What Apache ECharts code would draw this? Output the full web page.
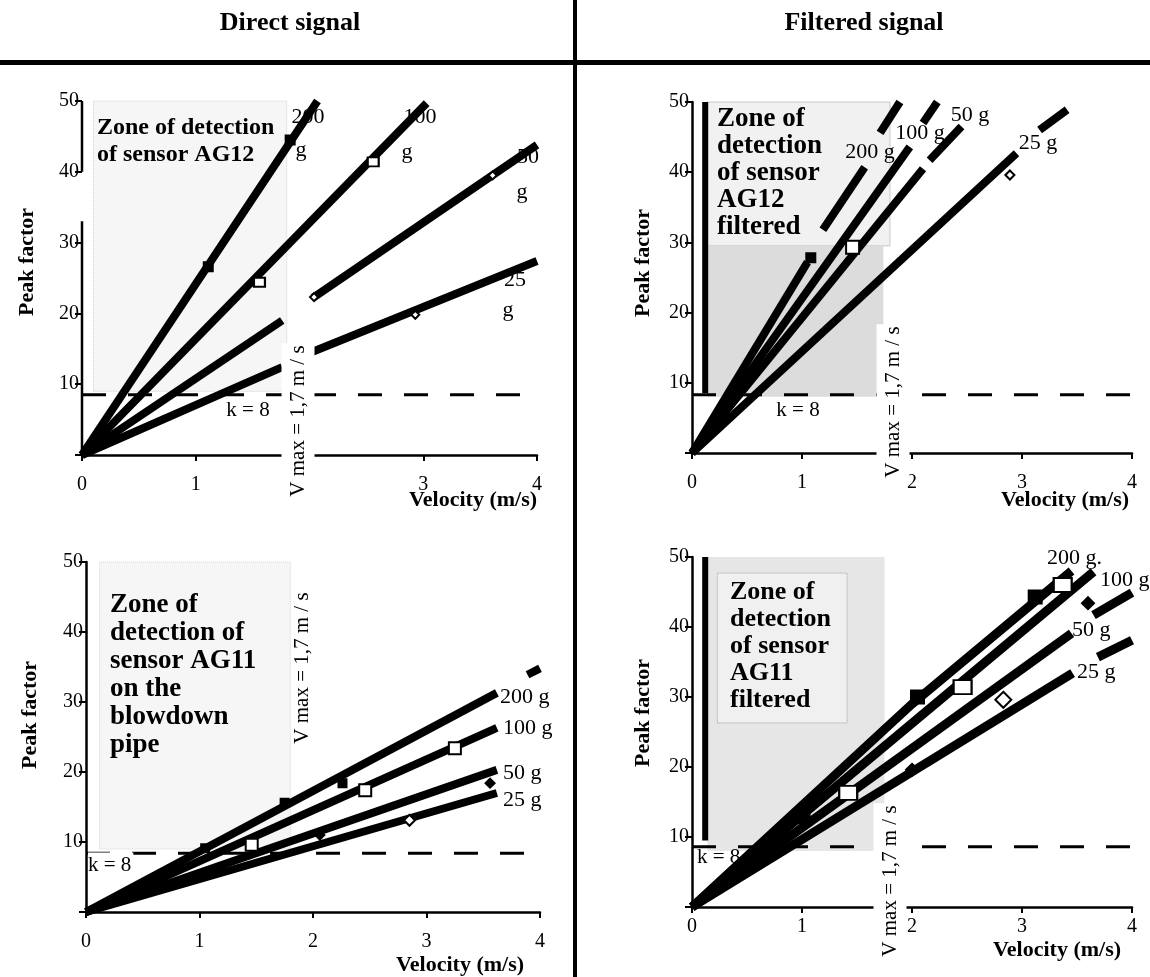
<!DOCTYPE html>
<html>
<head>
<meta charset="UTF-8">
<title>Peak factor vs velocity</title>
<script type="text/javascript" src="https://cdn.jsdelivr.net/npm/echarts/dist/echarts.min.js"></script>
<style>
  html, body { margin: 0; padding: 0; background: #fff; }
</style>
</head>
<body>
<div id="main" style="width: 1150px; height: 977px;"></div>
<script type="text/javascript">
// ---- data (velocity m/s, peak factor) ----
var xTickLabels = ['0', '1', '2', '3', '4'];
var yTickLabels = ['', '10', '20', '30', '40', '50'];

// each curve = list of drawn segments
// direct signal, sensor AG12 (top left)
var tl200 = [[[0, 0], [2.07, 50]]];
var tl100 = [[[0, 0], [3.03, 49.7]]];
var tl50 = [[[0, 0], [1.76, 19]], [[2.03, 22.2], [4.0, 43.8]]];
var tl25 = [[[0, 0], [1.76, 12.4]], [[2.0, 14.4], [4.0, 27.4]]];
var tlFilledSq = [[1.11, 26.6], [1.83, 44.5]];
var tlOpenSq = [[1.56, 24.4], [2.56, 41.4]];
var tlOpenDia = [[2.93, 19.8], [2.04, 22.3], [3.61, 39.5]];

// filtered signal, sensor AG12 (top right)
var tr200 = [[[0, 0], [1.05, 27.2]], [[1.19, 31.8], [1.57, 40.7]], [[1.71, 45.6], [1.89, 50]]];
var tr100 = [[[0, 0], [1.98, 43.6]], [[2.1, 47], [2.23, 50]]];
var tr50 = [[[0, 0], [2.1, 40.5]], [[2.16, 41.7], [2.45, 46.5]]];
var tr25 = [[[0, 0], [2.95, 42.7]], [[3.16, 46], [3.41, 48.9]]];
var trFilledSq = [[1.08, 27.8]];
var trOpenSq = [[1.46, 29.3]];
var trOpenDia = [[2.89, 39.6]];

// direct signal, sensor AG11 (bottom left)
var bl200 = [[[0, 0], [3.62, 31.3]], [[3.89, 33.9], [4.0, 34.8]]];
var bl100 = [[[0, 0], [3.62, 26.3]]];
var bl50 = [[[0, 0], [3.62, 20.3]]];
var bl25 = [[[0, 0], [3.62, 17.0]]];
var blFilledSq = [[1.05, 9.1], [1.75, 15.6], [2.26, 18.4]];
var blOpenSq = [[1.46, 9.6], [2.46, 17.4], [3.25, 23.4]];
var blFilledDia = [[2.06, 11], [3.56, 18.4]];
var blOpenDia = [[2.85, 13.1]];

// filtered signal, sensor AG11 (bottom right)
var br200 = [[[0, 0], [2.0, 29], [3.45, 48]]];
var br100 = [[[0, 0], [3.65, 47.9]]];
var br50 = [[[0, 0], [3.45, 39.1]], [[3.65, 41.7], [4.0, 44.9]]];
var br25 = [[[0, 0], [3.46, 33.4]], [[3.69, 35.7], [4.0, 38.1]]];
var brFilledSq = [[1.01, 12.9], [2.05, 30], [3.12, 44.3]];
var brOpenSq = [[1.42, 16.3], [2.46, 31.4], [3.37, 46]];
var brFilledDia = [[2.0, 19.6], [3.6, 43.4]];
var brOpenDia = [[2.83, 29.6]];

// k = 8 threshold as drawn in each panel
var kLevels = [8.5, 8.3, 8.4, 8.6];

var SERIF = '"Liberation Serif", "DejaVu Serif", serif';
var chart = echarts.init(document.getElementById('main'));

var grids = [
    { left: 82, top: 101, width: 455, height: 354 },
    { left: 692, top: 102, width: 440, height: 351 },
    { left: 86, top: 562, width: 454, height: 350 },
    { left: 692, top: 557, width: 440, height: 350 }
];
var xLabelMargin = [20, 20, 20, 10];

var xAxes = grids.map(function (g, i) {
    return {
        gridIndex: i, type: 'value', min: 0, max: 4, interval: 1,
        axisLine: { onZero: false, lineStyle: { color: '#000', width: 2.5 } },
        axisTick: { length: 6, lineStyle: { color: '#000', width: 2 } },
        axisLabel: {
            color: '#000', fontFamily: SERIF, fontSize: 20, margin: xLabelMargin[i],
            formatter: function (v) { return xTickLabels[Math.round(v)]; }
        },
        splitLine: { show: false }
    };
});
var yAxes = grids.map(function (g, i) {
    return {
        gridIndex: i, type: 'value', min: 0, max: 50, interval: 10,
        axisLine: { show: i !== 0, onZero: false, lineStyle: { color: '#000', width: 2.5 } },
        axisTick: { length: 7, lineStyle: { color: '#000', width: 2 } },
        axisLabel: {
            color: '#000', fontFamily: SERIF, fontSize: 20, margin: 3,
            formatter: function (v) { return yTickLabels[Math.round(v / 10)]; }
        },
        splitLine: { show: false }
    };
});

function curve(gi, segments, width) {
    return segments.map(function (s) {
        return {
            type: 'line', xAxisIndex: gi, yAxisIndex: gi, data: s, symbol: 'none',
            lineStyle: { color: '#000', width: width, cap: 'butt' },
            z: 4, silent: true, animation: false, clip: false
        };
    });
}
function marks(gi, data, symbol, size, filled) {
    return {
        type: 'scatter', xAxisIndex: gi, yAxisIndex: gi, data: data, symbol: symbol,
        symbolSize: size,
        itemStyle: { color: filled ? '#000' : '#fff', borderColor: '#000', borderWidth: 2, opacity: 1 },
        z: 6, silent: true, animation: false
    };
}
function zone(x1, y1, x2, y2, fill, border) {
    return [{
        coord: [x1, y1],
        itemStyle: { color: fill, borderColor: border || 'transparent', borderWidth: border ? 1 : 0, borderType: 'dotted' }
    }, { coord: [x2, y2] }];
}
function kLine(gi, zones) {
    return {
        type: 'line', xAxisIndex: gi, yAxisIndex: gi, data: [[0, kLevels[gi]], [4, kLevels[gi]]],
        symbol: 'none', lineStyle: { color: '#000', width: 3, type: [24, 22] },
        z: 2, silent: true, animation: false,
        markArea: { silent: true, label: { show: false }, data: zones }
    };
}
function bar(gi, data, width) {
    return {
        type: 'line', xAxisIndex: gi, yAxisIndex: gi, data: data, symbol: 'none',
        lineStyle: { color: '#000', width: width, cap: 'butt' }, z: 3, silent: true, animation: false
    };
}

var series = [];
// top left
series.push(kLine(0, [zone(0.1, 9, 1.8, 50, '#f6f6f6', '#d0d0d0')]));
series.push(bar(0, [[0, 0], [0, 33]], 2.5), bar(0, [[0, 40], [0, 50]], 2.5));
series = series.concat(curve(0, tl200, 8), curve(0, tl100, 8), curve(0, tl50, 8), curve(0, tl25, 8));
series.push(marks(0, tlFilledSq, 'rect', 9, true), marks(0, tlOpenSq, 'rect', [11, 9], false), marks(0, tlOpenDia, 'diamond', 8, false));
// top right
series.push(kLine(1, [zone(0.14, 29.5, 1.8, 50, '#f1f1f1', '#9a9a9a'), zone(0.14, 8, 1.74, 29.5, '#dcdcdc')]));
series.push(bar(1, [[0.12, 8.5], [0.12, 50]], 6));
series = series.concat(curve(1, tr200, 8), curve(1, tr100, 8), curve(1, tr50, 8), curve(1, tr25, 8));
series.push(marks(1, trFilledSq, 'rect', 9, true), marks(1, trOpenSq, 'rect', 13, false), marks(1, trOpenDia, 'diamond', 9, false));
// bottom left
series.push(kLine(2, [zone(0.12, 9, 1.8, 50, '#f6f6f6', '#d5d5d5')]));
series = series.concat(curve(2, bl200, 8), curve(2, bl100, 8), curve(2, bl50, 8), curve(2, bl25, 8));
series.push(marks(2, blFilledSq, 'rect', 8, true), marks(2, blOpenSq, 'rect', 12, false),
    marks(2, blFilledDia, 'diamond', 9, true), marks(2, blOpenDia, 'diamond', 11, false));
// bottom right
series.push(kLine(3, [zone(0.14, 8, 1.75, 50, '#e6e6e6'), zone(0.23, 26.3, 1.41, 47.7, '#f0f0f0', '#a0a0a0')]));
series.push(bar(3, [[0.12, 9.5], [0.12, 50]], 6));
series = series.concat(curve(3, br200, 9), curve(3, br100, 9), curve(3, br50, 9), curve(3, br25, 9));
series.push(marks(3, brFilledSq, 'rect', 13, true), marks(3, brOpenSq, 'rect', [18, 14], false),
    marks(3, brFilledDia, 'diamond', 12, true), marks(3, brOpenDia, 'diamond', 16, false));

// ---- texts ----
function txt(x, y, text, size, opt) {
    opt = opt || {};
    var style = {
        text: text, fill: '#000', fontFamily: SERIF, fontSize: size,
        fontWeight: opt.bold ? 'bold' : 'normal',
        align: opt.align || 'center', verticalAlign: opt.va || 'middle'
    };
    if (opt.lh) style.lineHeight = opt.lh;
    if (opt.bg) { style.backgroundColor = opt.bg; style.padding = opt.pad; }
    return { type: 'text', x: x, y: y, rotation: opt.rot || 0, z: opt.z || 3, style: style };
}
var V = Math.PI / 2;
var graphic = [
    { type: 'rect', shape: { x: 0, y: 60, width: 1150, height: 5 }, style: { fill: '#000' }, z: 20 },
    { type: 'rect', shape: { x: 573, y: 0, width: 4, height: 977 }, style: { fill: '#000' }, z: 20 },
    txt(290, 23, 'Direct signal', 26, { bold: true }),
    txt(864, 23, 'Filtered signal', 26, { bold: true }),

    txt(27, 262, 'Peak factor', 22, { bold: true, rot: V }),
    txt(643, 263, 'Peak factor', 22, { bold: true, rot: V }),
    txt(30, 715, 'Peak factor', 22, { bold: true, rot: V }),
    txt(643, 713, 'Peak factor', 22, { bold: true, rot: V }),

    txt(473, 500, 'Velocity (m/s)', 22, { bold: true }),
    txt(1065, 500, 'Velocity (m/s)', 22, { bold: true }),
    txt(460, 965, 'Velocity (m/s)', 22, { bold: true }),
    txt(1057, 950, 'Velocity (m/s)', 22, { bold: true }),

    txt(298, 421, 'V max = 1,7 m / s', 21, { rot: V, z: 10, bg: '#fff', pad: [6, 2, 6, 2] }),
    txt(893, 402, 'V max = 1,7 m / s', 21, { rot: V, z: 10, bg: '#fff', pad: [6, 2, 6, 2] }),
    txt(302, 668, 'V max = 1,7 m / s', 21, { rot: V }),
    txt(890, 881, 'V max = 1,7 m / s', 21, { rot: V, z: 10, bg: '#fff', pad: [6, 2, 6, 2] }),

    txt(248, 410, 'k = 8', 21),
    txt(798, 410, 'k = 8', 21),
    txt(88, 865, 'k = 8', 21, { align: 'left', z: 10, bg: '#fff', pad: [2, 2, 2, 0] }),
    txt(697, 857, 'k = 8', 21, { align: 'left' }),

    txt(97, 114, 'Zone of detection\nof sensor AG12', 24, { bold: true, align: 'left', va: 'top', lh: 27 }),
    txt(717, 106, 'Zone of\ndetection\nof sensor\nAG12\nfiltered', 27, { bold: true, align: 'left', va: 'top', lh: 27 }),
    txt(110, 591, 'Zone of\ndetection of\nsensor AG11\non the\nblowdown\npipe', 27, { bold: true, align: 'left', va: 'top', lh: 28 }),
    txt(730, 579, 'Zone of\ndetection\nof sensor\nAG11\nfiltered', 26, { bold: true, align: 'left', va: 'top', lh: 27 }),

    // curve labels, top left
    txt(308, 117, '200', 22), txt(301, 150, 'g', 22),
    txt(420, 117, '100', 22), txt(407, 152, 'g', 22),
    txt(528, 157, '50', 22), txt(522, 192, 'g', 22),
    txt(515, 280, '25', 22), txt(508, 310, 'g', 22),
    // top right
    txt(870, 152, '200 g', 22), txt(920, 133, '100 g', 22),
    txt(970, 115, '50 g', 22), txt(1038, 143, '25 g', 22),
    // bottom left
    txt(500, 697, '200 g', 22, { align: 'left' }), txt(503, 728, '100 g', 22, { align: 'left' }),
    txt(503, 773, '50 g', 22, { align: 'left' }), txt(503, 800, '25 g', 22, { align: 'left' }),
    // bottom right
    txt(1047, 558, '200 g.', 22, { align: 'left' }), txt(1100, 580, '100 g', 22, { align: 'left' }),
    txt(1072, 630, '50 g', 22, { align: 'left' }), txt(1077, 672, '25 g', 22, { align: 'left' })
];

chart.setOption({
    backgroundColor: '#fff',
    animation: false,
    grid: grids,
    xAxis: xAxes,
    yAxis: yAxes,
    series: series,
    graphic: graphic
});
</script>
</body>
</html>
